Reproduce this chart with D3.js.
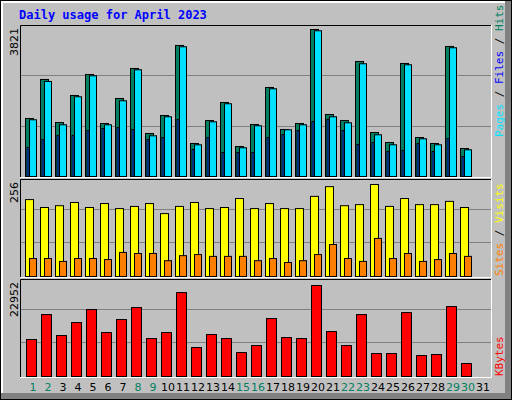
<!DOCTYPE html>
<html><head><meta charset="utf-8">
<script src="https://cdn.jsdelivr.net/npm/d3@7"></script>
<style>body{margin:0;background:#fff}svg{display:block}</style>
</head><body>
<script>
const days = d3.range(1, 32);
const weekend = [1,2,8,9,15,16,22,23,29,30];
const hits  = [1508,2522,1404,2106,2652,1378,2028,2808,1118,1586,3406,858,1456,1924,780,1352,2314,1222,1378,3821,1612,1456,2990,1144,884,2938,1014,858,3380,728,0];
const files = [1474,2470,1344,2072,2618,1344,1968,2774,1058,1552,3372,824,1422,1890,746,1318,2280,1214,1344,3788,1552,1396,2930,1084,824,2904,980,824,3346,694,0];
const pages = [754,962,1066,1066,1196,1248,1274,1222,962,1014,1482,702,1014,624,624,624,1014,1092,1196,1430,1482,1196,832,884,650,676,858,650,988,520,0];
const visits= [214,192,197,206,192,203,189,195,203,175,195,206,189,192,217,189,203,189,189,223,250,197,200,256,195,217,200,200,209,192,0];
const sites = [50,50,42,50,50,47,67,64,64,44,58,61,56,56,56,44,50,39,44,61,89,50,42,106,50,64,42,47,64,56,0];
const kbytes= [9324,15624,10332,13608,16884,11088,14364,17388,9576,11088,21168,7308,10584,9576,6048,7812,14616,9828,9576,22952,11340,7812,15624,5796,5796,16128,5292,5544,17640,3276,0];
const maxLabels = ["3821","256","22952"];

const svg = d3.select("body").append("svg").attr("width",512).attr("height",400);
// background and borders
svg.append("rect").attr("x",0).attr("y",0).attr("width",512).attr("height",400).attr("fill","#000");
svg.append("rect").attr("x",1).attr("y",1).attr("width",510).attr("height",398).attr("fill","#808080");
svg.append("rect").attr("x",1).attr("y",1).attr("width",504).attr("height",392).attr("fill","#fff");
svg.append("rect").attr("x",3).attr("y",3).attr("width",502).attr("height",390).attr("fill","#c0c0c0");

svg.append("text").attr("x",19).attr("y",19).attr("fill","#0000ff")
  .attr("font-family","DejaVu Sans Mono").attr("font-weight","bold").attr("font-size",12)
  .text("Daily usage for April 2023");

const x = d3.scaleLinear().domain([1,31]).range([25,475]);
const mono = "DejaVu Sans Mono";

const panels = [
  {top:25, base:176, hmax:147, max:3821},
  {top:179, base:276, hmax:92, max:256},
  {top:279, base:376, hmax:91, max:22952}
];
panels.forEach((p,i)=>{
  // frame
  svg.append("rect").attr("x",20).attr("y",p.top).attr("width",471).attr("height",p.base+1-p.top).attr("fill","#c0c0c0");
  svg.append("path").attr("d",`M20.5,${p.base+1}V${p.top+0.5}H491`).attr("stroke","#000").attr("fill","none");
  svg.append("path").attr("d",`M20,${p.base+1.5}H491.5V${p.top}`).attr("stroke","#fff").attr("fill","none");
  p.y = d3.scaleLinear().domain([0,p.max]).range([p.base, p.base-p.hmax]);
  const span = p.base - p.top;
  [1/3,2/3].forEach(f=>{
    const gy = Math.round(p.base - span*f) + 0.5 + (i>0?-2:0);
    svg.append("line").attr("x1",21).attr("x2",491).attr("y1",gy).attr("y2",gy).attr("stroke","#808080");
  });
  svg.append("text").attr("transform",`translate(18,${p.top+3}) rotate(-90)`).attr("text-anchor","end")
    .attr("font-family","DejaVu Sans").attr("font-size",11).attr("fill","#000").text(maxLabels[i]);
});

function bars(panel, data, dx, w, fill){
  const p = panels[panel];
  svg.append("g").selectAll("rect").data(data.map((v,i)=>({v,d:days[i]})).filter(o=>o.v>0))
    .join("rect")
    .attr("x",o=>x(o.d)+dx+0.5).attr("y",o=>p.y(o.v)+0.5)
    .attr("width",w).attr("height",o=>p.base-p.y(o.v))
    .attr("fill",fill).attr("stroke","#000").attr("stroke-width",1);
}
bars(0,hits,0,8,"#008060");
bars(0,files,4,7,"#00e0ff");
bars(0,pages,1.5,2,"#0060ff");
bars(1,visits,0,8,"#ffff00");
bars(1,sites,4,7,"#ff8000");
bars(2,kbytes,1,10,"#ff0000");

// day labels
svg.append("g").selectAll("text").data(days).join("text")
  .attr("x",d=>x(d)+8).attr("y",391).attr("text-anchor","middle")
  .attr("font-family","DejaVu Sans").attr("font-size",11)
  .attr("fill",d=>weekend.includes(d)?"#008060":"#000").text(d=>d);

// right labels
function rlabel(yBottom, parts){
  const t = svg.append("text").attr("transform",`translate(503,${yBottom}) rotate(-90)`)
    .attr("font-family",mono).attr("font-size",11);
  parts.forEach(([s,c])=>t.append("tspan").attr("fill",c).text(s));
}
rlabel(137,[["Pages","#00e0ff"],[" / ","#000"],["Files","#0000ff"],[" / ","#000"],["Hits","#008060"]]);
rlabel(276,[["Sites","#ff8000"],[" / ","#000"],["Visits","#ffff00"]]);
rlabel(376,[["KBytes","#ff0000"]]);
</script>
</body></html>
